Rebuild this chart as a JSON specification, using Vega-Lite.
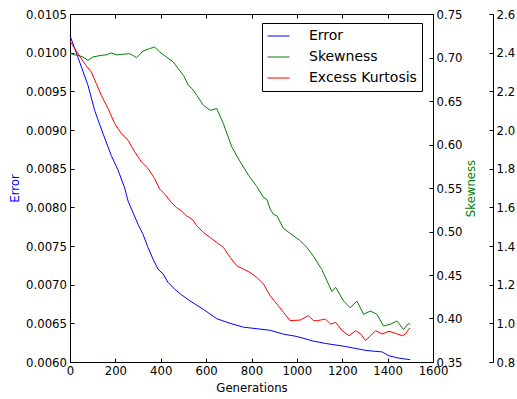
{
  "$schema": "https://vega.github.io/schema/vega-lite/v6.json",
  "width": 363,
  "height": 348,
  "autosize": {"type": "none"},
  "padding": {"left": 70, "top": 14, "right": 84, "bottom": 37},
  "background": "white",
  "config": {
    "font": "DejaVu Sans",
    "view": {"stroke": "black", "strokeWidth": 1},
    "axis": {"grid": false, "domainColor": "black", "tickColor": "black", "labelColor": "black", "labelFontSize": 11.7, "titleFontSize": 11.7, "titleFontWeight": "normal", "labelFlush": false, "labelOverlap": false, "tickSize": -4, "domainWidth": 1, "tickWidth": 1}
  },
  "data": {"values": [
    {"g":0,"s":"Error","v":0.01022},{"g":35,"s":"Error","v":0.00994},{"g":79,"s":"Error","v":0.00958},{"g":109,"s":"Error","v":0.00925},{"g":146,"s":"Error","v":0.00895},{"g":182,"s":"Error","v":0.00867},{"g":212,"s":"Error","v":0.00848},{"g":241,"s":"Error","v":0.00825},{"g":256,"s":"Error","v":0.00808},{"g":278,"s":"Error","v":0.00793},{"g":300,"s":"Error","v":0.00778},{"g":322,"s":"Error","v":0.00765},{"g":344,"s":"Error","v":0.00748},{"g":366,"s":"Error","v":0.00733},{"g":388,"s":"Error","v":0.0072},{"g":410,"s":"Error","v":0.00714},{"g":432,"s":"Error","v":0.00703},{"g":462,"s":"Error","v":0.00694},{"g":491,"s":"Error","v":0.00687},{"g":529,"s":"Error","v":0.00679},{"g":588,"s":"Error","v":0.00668},{"g":647,"s":"Error","v":0.00656},{"g":706,"s":"Error","v":0.0065},{"g":765,"s":"Error","v":0.00645},{"g":824,"s":"Error","v":0.00643},{"g":882,"s":"Error","v":0.00641},{"g":941,"s":"Error","v":0.00636},{"g":1000,"s":"Error","v":0.00633},{"g":1073,"s":"Error","v":0.00627},{"g":1126,"s":"Error","v":0.00624},{"g":1215,"s":"Error","v":0.0062},{"g":1303,"s":"Error","v":0.00615},{"g":1376,"s":"Error","v":0.00613},{"g":1406,"s":"Error","v":0.00608},{"g":1450,"s":"Error","v":0.00605},{"g":1500,"s":"Error","v":0.00603},
    {"g":0,"s":"Skewness","v":0.705},{"g":20,"s":"Skewness","v":0.703},{"g":35,"s":"Skewness","v":0.7025},{"g":57,"s":"Skewness","v":0.7006},{"g":79,"s":"Skewness","v":0.6967},{"g":101,"s":"Skewness","v":0.7006},{"g":138,"s":"Skewness","v":0.7025},{"g":160,"s":"Skewness","v":0.703},{"g":182,"s":"Skewness","v":0.7052},{"g":205,"s":"Skewness","v":0.703},{"g":226,"s":"Skewness","v":0.7036},{"g":263,"s":"Skewness","v":0.7044},{"g":280,"s":"Skewness","v":0.702},{"g":293,"s":"Skewness","v":0.6998},{"g":310,"s":"Skewness","v":0.704},{"g":322,"s":"Skewness","v":0.7075},{"g":351,"s":"Skewness","v":0.7102},{"g":373,"s":"Skewness","v":0.7121},{"g":395,"s":"Skewness","v":0.7064},{"g":425,"s":"Skewness","v":0.7006},{"g":455,"s":"Skewness","v":0.6949},{"g":477,"s":"Skewness","v":0.6872},{"g":500,"s":"Skewness","v":0.6795},{"g":522,"s":"Skewness","v":0.668},{"g":538,"s":"Skewness","v":0.6642},{"g":559,"s":"Skewness","v":0.6565},{"g":588,"s":"Skewness","v":0.6451},{"g":618,"s":"Skewness","v":0.6393},{"g":647,"s":"Skewness","v":0.6413},{"g":676,"s":"Skewness","v":0.624},{"g":713,"s":"Skewness","v":0.5973},{"g":750,"s":"Skewness","v":0.5801},{"g":787,"s":"Skewness","v":0.5647},{"g":824,"s":"Skewness","v":0.5514},{"g":853,"s":"Skewness","v":0.5391},{"g":868,"s":"Skewness","v":0.5368},{"g":882,"s":"Skewness","v":0.526},{"g":897,"s":"Skewness","v":0.5196},{"g":912,"s":"Skewness","v":0.5181},{"g":941,"s":"Skewness","v":0.5035},{"g":970,"s":"Skewness","v":0.498},{"g":1015,"s":"Skewness","v":0.4894},{"g":1044,"s":"Skewness","v":0.4817},{"g":1073,"s":"Skewness","v":0.4715},{"g":1104,"s":"Skewness","v":0.4587},{"g":1110,"s":"Skewness","v":0.4564},{"g":1154,"s":"Skewness","v":0.431},{"g":1171,"s":"Skewness","v":0.4358},{"g":1206,"s":"Skewness","v":0.42},{"g":1235,"s":"Skewness","v":0.4124},{"g":1265,"s":"Skewness","v":0.42},{"g":1294,"s":"Skewness","v":0.4048},{"g":1324,"s":"Skewness","v":0.4086},{"g":1353,"s":"Skewness","v":0.4048},{"g":1382,"s":"Skewness","v":0.3913},{"g":1411,"s":"Skewness","v":0.3933},{"g":1441,"s":"Skewness","v":0.3971},{"g":1470,"s":"Skewness","v":0.3875},{"g":1493,"s":"Skewness","v":0.3944},{"g":1500,"s":"Skewness","v":0.393},
    {"g":0,"s":"Excess Kurtosis","v":2.46},{"g":35,"s":"Excess Kurtosis","v":2.395},{"g":65,"s":"Excess Kurtosis","v":2.343},{"g":94,"s":"Excess Kurtosis","v":2.3},{"g":116,"s":"Excess Kurtosis","v":2.24},{"g":138,"s":"Excess Kurtosis","v":2.179},{"g":168,"s":"Excess Kurtosis","v":2.111},{"g":197,"s":"Excess Kurtosis","v":2.033},{"g":226,"s":"Excess Kurtosis","v":1.982},{"g":256,"s":"Excess Kurtosis","v":1.947},{"g":285,"s":"Excess Kurtosis","v":1.887},{"g":315,"s":"Excess Kurtosis","v":1.835},{"g":344,"s":"Excess Kurtosis","v":1.801},{"g":373,"s":"Excess Kurtosis","v":1.749},{"g":395,"s":"Excess Kurtosis","v":1.695},{"g":418,"s":"Excess Kurtosis","v":1.668},{"g":447,"s":"Excess Kurtosis","v":1.625},{"g":469,"s":"Excess Kurtosis","v":1.599},{"g":491,"s":"Excess Kurtosis","v":1.582},{"g":513,"s":"Excess Kurtosis","v":1.556},{"g":538,"s":"Excess Kurtosis","v":1.539},{"g":559,"s":"Excess Kurtosis","v":1.505},{"g":588,"s":"Excess Kurtosis","v":1.47},{"g":618,"s":"Excess Kurtosis","v":1.444},{"g":647,"s":"Excess Kurtosis","v":1.418},{"g":676,"s":"Excess Kurtosis","v":1.393},{"g":706,"s":"Excess Kurtosis","v":1.341},{"g":735,"s":"Excess Kurtosis","v":1.298},{"g":765,"s":"Excess Kurtosis","v":1.28},{"g":794,"s":"Excess Kurtosis","v":1.263},{"g":824,"s":"Excess Kurtosis","v":1.237},{"g":853,"s":"Excess Kurtosis","v":1.203},{"g":882,"s":"Excess Kurtosis","v":1.143},{"g":912,"s":"Excess Kurtosis","v":1.1},{"g":941,"s":"Excess Kurtosis","v":1.057},{"g":970,"s":"Excess Kurtosis","v":1.014},{"g":1015,"s":"Excess Kurtosis","v":1.017},{"g":1051,"s":"Excess Kurtosis","v":1.04},{"g":1073,"s":"Excess Kurtosis","v":1.014},{"g":1090,"s":"Excess Kurtosis","v":1.014},{"g":1126,"s":"Excess Kurtosis","v":1.022},{"g":1149,"s":"Excess Kurtosis","v":0.996},{"g":1171,"s":"Excess Kurtosis","v":1.005},{"g":1200,"s":"Excess Kurtosis","v":0.962},{"g":1230,"s":"Excess Kurtosis","v":0.936},{"g":1259,"s":"Excess Kurtosis","v":0.962},{"g":1281,"s":"Excess Kurtosis","v":0.945},{"g":1303,"s":"Excess Kurtosis","v":0.911},{"g":1325,"s":"Excess Kurtosis","v":0.936},{"g":1347,"s":"Excess Kurtosis","v":0.962},{"g":1376,"s":"Excess Kurtosis","v":0.945},{"g":1406,"s":"Excess Kurtosis","v":0.959},{"g":1435,"s":"Excess Kurtosis","v":0.948},{"g":1465,"s":"Excess Kurtosis","v":0.936},{"g":1479,"s":"Excess Kurtosis","v":0.945},{"g":1493,"s":"Excess Kurtosis","v":0.97},{"g":1500,"s":"Excess Kurtosis","v":0.975}
  ]},
  "layer": [
    {
      "transform": [{"filter": "datum.s === 'Error'"}],
      "mark": {"type": "line", "strokeWidth": 1},
      "encoding": {
        "x": {"field": "g", "type": "quantitative", "scale": {"domain": [0, 1600], "nice": false}, "axis": {"orient": "bottom", "values": [0,200,400,600,800,1000,1200,1400,1600], "format": "d", "title": "Generations", "labelPadding": 7.5, "titlePadding": 5}},
        "y": {"field": "v", "type": "quantitative", "scale": {"domain": [0.006, 0.0105], "nice": false, "zero": false}, "axis": {"orient": "left", "values": [0.006,0.0065,0.007,0.0075,0.008,0.0085,0.009,0.0095,0.01,0.0105], "format": ".4f", "title": "Error", "titleColor": "#0000ff", "labelPadding": 7.5, "titlePadding": 5}},
        "color": {"field": "s", "type": "nominal", "scale": {"domain": ["Error", "Skewness", "Excess Kurtosis"], "range": ["#0000ff", "#008000", "#ff0000"]}, "legend": {"orient": "none", "legendX": 192, "legendY": 9, "title": null, "strokeColor": "black", "fillColor": "white", "padding": 5, "symbolType": "stroke", "symbolSize": 484, "symbolStrokeWidth": 1, "clipHeight": 16, "labelFontSize": 14, "labelOffset": 19, "rowPadding": 5, "labelColor": "black", "cornerRadius": 0}}
      }
    },
    {
      "transform": [{"filter": "datum.s === 'Skewness'"}],
      "mark": {"type": "line", "strokeWidth": 1},
      "encoding": {
        "x": {"field": "g", "type": "quantitative", "axis": {"orient": "top", "values": [0,200,400,600,800,1000,1200,1400,1600], "labels": false, "title": null, "domain": false}},
        "y": {"field": "v", "type": "quantitative", "scale": {"domain": [0.35, 0.75], "nice": false, "zero": false}, "axis": {"orient": "right", "values": [0.35,0.4,0.45,0.5,0.55,0.6,0.65,0.7,0.75], "format": ".2f", "title": "Skewness", "titleColor": "#008000", "titleAngle": 270, "titleBaseline": "top", "labelPadding": 7, "titlePadding": 3}},
        "color": {"field": "s", "type": "nominal"}
      }
    },
    {
      "transform": [{"filter": "datum.s === 'Excess Kurtosis'"}],
      "mark": {"type": "line", "strokeWidth": 1},
      "encoding": {
        "x": {"field": "g", "type": "quantitative", "axis": null},
        "y": {"field": "v", "type": "quantitative", "scale": {"domain": [0.8, 2.6], "nice": false, "zero": false}, "axis": {"orient": "right", "offset": 60, "values": [0.8,1.0,1.2,1.4,1.6,1.8,2.0,2.2,2.4,2.6], "format": ".1f", "title": null, "labelPadding": 7}},
        "color": {"field": "s", "type": "nominal"}
      }
    }
  ],
  "resolve": {"scale": {"y": "independent"}, "axis": {"x": "independent", "y": "independent"}}
}
